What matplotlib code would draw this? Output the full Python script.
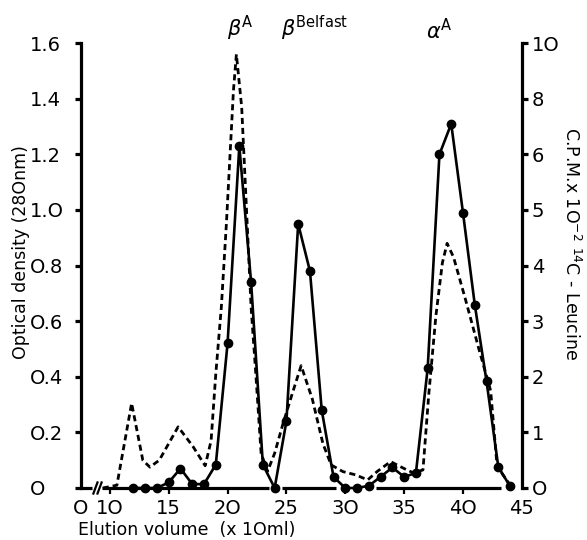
import numpy as np
import matplotlib
matplotlib.use('Agg')
import matplotlib.pyplot as plt

# fraction number (x 10 ml) and counts (C.P.M. x 10^-2, 14C-leucine)
fractions = list(range(12, 45))
cpm = [0, 0, 0, 0.1, 0.35, 0.07, 0.07, 0.42, 2.6, 6.3, 3.7, 0.42, 0, 1.2, 4.75,
       3.9, 1.4, 0.2, 0, 0, 0.04, 0.2, 0.37, 0.2, 0.27, 2.15, 6.0, 7.1, 4.95,
       3.3, 1.92, 0.38, 0.03]

# optical density trace (280 nm)
od_x = [9.4, 10.6, 11.85, 12.8, 13.4, 14.2, 15.8, 17.05, 18.1, 18.6, 19.0,
        19.47, 19.9, 20.2, 20.5, 20.75, 21.2, 21.6, 22.0, 22.4, 22.85, 23.4,
        24.0, 24.7, 25.5, 26.25, 27.2, 28.1, 28.8, 29.8, 30.9, 31.9, 32.7,
        33.85, 35.0, 35.8, 36.6, 37.1, 37.7, 38.25, 38.65, 39.2, 40.2, 41.35,
        42.35, 42.9, 43.9]
od = [0, 0.01, 0.305, 0.10, 0.075, 0.10, 0.22, 0.15, 0.08, 0.17, 0.41, 0.65,
      0.95, 1.19, 1.43, 1.56, 1.37, 1.01, 0.65, 0.41, 0.125, 0.06, 0.125, 0.23,
      0.34, 0.44, 0.32, 0.16, 0.083, 0.059, 0.047, 0.029, 0.059, 0.095, 0.07,
      0.054, 0.065, 0.34, 0.62, 0.81, 0.88, 0.83, 0.68, 0.50, 0.35, 0.077,
      0.017]

od_ticks = [0, 0.2, 0.4, 0.6, 0.8, 1.0, 1.2, 1.4, 1.6]
od_labels = ['O', 'O.2', 'O.4', 'O.6', 'O.8', '1.O', '1.2', '1.4', '1.6']
cpm_ticks = [0, 1, 2, 3, 4, 5, 6, 8, 10]
cpm_labels = ['O', '1', '2', '3', '4', '5', '6', '8', '1O']
x_ticks = [7.55, 10, 15, 20, 25, 30, 35, 40, 45]
x_labels = ['O', '1O', '15', '2O', '25', '3O', '35', '4O', '45']

peaks = [r'$\beta^{\mathrm{A}}$', r'$\beta^{\mathrm{Belfast}}$', r'$\alpha^{\mathrm{A}}$']
peak_x = [21.1, 27.4, 38.0]

# drawn pieces of the hand-drafted baseline
base_from = [7.55, 9.35, 24.66, 32.63]
base_to = [8.5, 23.56, 29.24, 43.2]

lw_axis = 2.3
fs = 14

fig = plt.figure(figsize=(5.87, 5.4), dpi=100)
ax = fig.add_axes([0.138, 0.0963, 0.751, 0.8237])
ax.set_xlim(7.55, 45)
ax.set_ylim(0, 1.6)

ax.plot(od_x, od, color='black', lw=2.0, linestyle=(0, (2.2, 1.4)), clip_on=False)

for s in ['top', 'right', 'bottom']:
    ax.spines[s].set_visible(False)
ax.spines['left'].set_linewidth(lw_axis)
ax.hlines([0] * len(base_from), base_from, base_to, color='black', lw=lw_axis,
          clip_on=False, zorder=3)
for x0 in [8.6, 8.95]:
    ax.plot([x0, x0 + 0.35], [-0.02, 0.02], color='black', lw=1.6, clip_on=False)

ax.set_yticks(od_ticks)
ax.set_yticklabels(od_labels, fontsize=fs)
for lab in ax.get_yticklabels():
    lab.set_horizontalalignment('left')
ax.tick_params(axis='y', direction='out', length=4, width=lw_axis, pad=33)
ax.set_xticks(x_ticks)
ax.set_xticklabels(x_labels, fontsize=fs)
ax.tick_params(axis='x', direction='out', length=4, width=1.6, pad=4)
ax.xaxis.get_major_ticks()[0].tick1line.set_visible(False)
ax.xaxis.get_major_ticks()[-1].tick1line.set_visible(False)

ax.set_ylabel('Optical density (28Onm)', fontsize=12.5, labelpad=4)
ax.yaxis.set_label_coords(-0.115, 0.53)

# right axis: C.P.M., compressed above 6
def fwd(v):
    return np.interp(v, [0, 6, 10], [0, 6, 8])

def inv(u):
    return np.interp(u, [0, 6, 8], [0, 6, 10])

ax2 = ax.twinx()
ax2.set_yscale('function', functions=(fwd, inv))
ax2.set_ylim(0, 10)
ax2.plot(fractions, cpm, color='black', lw=1.9, marker='o', ms=6,
         clip_on=False, zorder=4)
for s in ['top', 'left', 'bottom']:
    ax2.spines[s].set_visible(False)
ax2.spines['right'].set_linewidth(lw_axis)
ax2.set_yticks(cpm_ticks)
ax2.set_yticks([], minor=True)
ax2.set_yticklabels(cpm_labels, fontsize=fs)
ax2.tick_params(axis='y', direction='out', length=4, width=lw_axis, pad=3)
ax2.set_ylabel(r'C.P.M.x 1O$^{-2}$ $^{14}$C - Leucine', fontsize=12.5,
               rotation=-90, labelpad=10)
ax2.yaxis.set_label_coords(1.135, 0.55)

for txt, px in zip(peaks, peak_x):
    ax.text(px, 1.6, txt, fontsize=15, ha='center', va='bottom')

fig.text(78 / 587, 1 - 530 / 540, 'Elution volume  (x 1Oml)', fontsize=12.5,
         ha='left', va='center')

fig.savefig('out.png', dpi=100)
